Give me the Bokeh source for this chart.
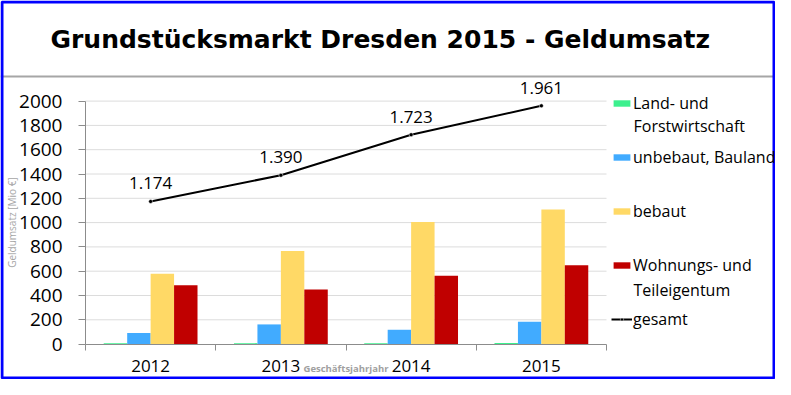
import math
import numpy as np
from bokeh.plotting import figure
from bokeh.models import (Range1d, FixedTicker, Label, Legend, LegendItem,
                          PolyAnnotation, ColumnDataSource)
from bokeh.core.properties import value
from bokeh.embed import file_html
from bokeh.resources import INLINE

# ---- data ----
years = ["2012", "2013", "2014", "2015"]
land_forst = [6, 8, 7, 9]
unbebaut = [92, 162, 118, 184]
bebaut = [580, 766, 1004, 1108]
wohnungs = [484, 450, 563, 648]
gesamt = [1174, 1390, 1723, 1961]
gesamt_labels = ["1.174", "1.390", "1.723", "1.961"]
series_names = ["Land- und", "unbebaut, Bauland", "bebaut", "Wohnungs- und"]
series_colors = ["#3CF08E", "#41ABFF", "#FFD966", "#C00000"]
y_max = 2000
y_ticks = list(range(0, y_max + 1, 200))

# ---- layout (canvas pixels) ----
W, H = 775, 379
PL, PR, PT, PB = 85, 606, 100.6, 343.6     # plot area edges

n = len(years)
ppx = (PR - PL) / n            # px per x unit
ppy = (PB - PT) / y_max        # px per y unit
x_range = Range1d(-PL / ppx, n + (W - PR) / ppx)
y_range = Range1d(-(H - PB) / ppy, y_max + PT / ppy)

def sy(fy):
    return H - fy

p = figure(width=W, height=H, output_backend="svg", toolbar_location=None,
           title=None, min_border=0, x_range=x_range, y_range=y_range)
p.outline_line_color = None
p.background_fill_color = "white"
p.border_fill_color = "white"
p.xgrid.visible = False
p.ygrid.visible = False

# grid lines over plot area only
gl = [t for t in y_ticks if t > 0]
p.segment(x0=[0] * len(gl), x1=[n] * len(gl), y0=gl, y1=gl,
          line_color="#DCDCDC", line_width=1)

centers = np.arange(n) + 0.5
bw = 0.18
offsets = [-1.5 * bw, -0.5 * bw, 0.5 * bw, 1.5 * bw]
all_series = [land_forst, unbebaut, bebaut, wohnungs]
bar_renderers = []
for vals, off, col in zip(all_series, offsets, series_colors):
    src = ColumnDataSource(dict(x=centers + off, top=vals))
    r = p.vbar(x="x", top="top", width=bw, source=src, fill_color=col,
               line_color=None)
    bar_renderers.append(r)

lsrc = ColumnDataSource(dict(x=centers, y=gesamt, lab=gesamt_labels))
lr = p.line("x", "y", source=lsrc, line_color="black", line_width=2)
sr = p.scatter("x", "y", source=lsrc, size=4, marker="circle",
               fill_color="black", line_color="white", line_width=0.5)
p.text("x", "y", text="lab", source=lsrc, text_align="center",
       text_baseline="middle", y_offset=-18, text_font=value("Open Sans"),
       text_font_size="17px", text_color="black")

# axes (fixed at the data origin)
xa = p.xaxis[0]
xa.fixed_location = 0
xa.bounds = (0, n)
xa.ticker = FixedTicker(ticks=list(centers), minor_ticks=list(range(n + 1)))
xa.major_label_overrides = {float(c): y for c, y in zip(centers, years)}
xa.major_tick_in = 0
xa.major_tick_out = 0
xa.minor_tick_in = 0
xa.minor_tick_out = 6
xa.minor_tick_line_color = "#8C8C8C"
xa.axis_line_color = "#8C8C8C"
xa.major_label_standoff = 10
xa.major_label_text_font = "Open Sans"
xa.major_label_text_font_size = "17px"
xa.major_label_text_color = "black"

ya = p.yaxis[0]
ya.fixed_location = 0
ya.bounds = (0, y_max)
ya.ticker = FixedTicker(ticks=y_ticks)
ya.major_tick_in = 0
ya.major_tick_out = 7
ya.minor_tick_line_color = None
ya.major_tick_line_color = "#8C8C8C"
ya.axis_line_color = "#8C8C8C"
ya.major_label_standoff = 16
ya.major_label_text_font = "Open Sans"
ya.major_label_text_font_size = "19px"
ya.major_label_text_color = "black"

# frame decorations
p.add_layout(PolyAnnotation(xs=[0, W, W, 0], ys=[sy(75), sy(75), sy(77), sy(77)],
                            xs_units="screen", ys_units="screen",
                            fill_color="#A6A6A6", fill_alpha=1, line_color=None))
p.add_layout(PolyAnnotation(xs=[1.5, W - 1.5, W - 1.5, 1.5],
                            ys=[sy(1.5), sy(1.5), sy(H - 1.5), sy(H - 1.5)],
                            xs_units="screen", ys_units="screen",
                            fill_alpha=0, line_color="#0000FF", line_alpha=1,
                            line_width=3))

# title
p.add_layout(Label(x=50, y=sy(39), x_units="screen", y_units="screen",
                   text="Grundstücksmarkt Dresden 2015 - Geldumsatz",
                   text_font="DejaVu Sans", text_font_style="bold",
                   text_font_size="25px", text_color="black",
                   text_baseline="middle", text_align="left"))

# axis titles
p.add_layout(Label(x=11, y=sy((PT + PB) / 2), x_units="screen",
                   y_units="screen", text="Geldumsatz [Mio €]",
                   angle=math.pi / 2, text_align="center",
                   text_baseline="middle", text_font="Open Sans",
                   text_font_size="10px", text_color="#A6A6A6"))
p.add_layout(Label(x=(PL + PR) / 2, y=sy(368), x_units="screen",
                   y_units="screen", text="Geschäftsjahrjahr",
                   text_align="center", text_baseline="middle",
                   text_font="Open Sans", text_font_style="bold",
                   text_font_size="9.5px", text_color="#A0A0A0"))

# legend
items = [LegendItem(label=s, renderers=[r]) for s, r in zip(series_names, bar_renderers)]
items.append(LegendItem(label="gesamt", renderers=[lr, sr]))
legend = Legend(items=items, location=(611, 49.5),
                orientation="vertical", padding=0, margin=0, spacing=32,
                label_height=20, glyph_height=8, glyph_width=21,
                label_standoff=1, label_text_font="Open Sans",
                label_text_font_size="16px", label_text_color="black",
                label_text_baseline="middle",
                border_line_color=None, background_fill_alpha=0)
p.add_layout(legend, "center")

for txt, fy in [("Forstwirtschaft", 125), ("Teileigentum", 289)]:
    p.add_layout(Label(x=633, y=sy(fy), x_units="screen",
                       y_units="screen", text=txt, text_align="left",
                       text_baseline="middle", text_font="Open Sans",
                       text_font_size="16px", text_color="black"))

open("out.html", "w").write(file_html(p, INLINE))
